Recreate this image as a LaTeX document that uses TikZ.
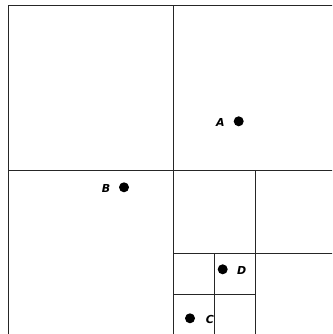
\documentclass[tikz,border=0pt]{standalone}
\usepackage{fontspec}
\newfontfamily\handfont{DejaVu Sans}
\begin{document}
\begin{tikzpicture}[x=1pt,y=-1pt,
  grid/.style={draw=black!85,line width=1pt},
  pt/.style={circle,fill=black,inner sep=0pt,minimum size=10pt},
  lbl/.style={font=\handfont\bfseries\itshape\fontsize{11}{11}\selectfont,inner sep=0pt}]
\useasboundingbox (0,0) rectangle (332,334);
\clip (0,0) rectangle (332,334);
\fill[white] (0,0) rectangle (332,334);
% outer square and quadtree subdivisions
\draw[grid] (8,5.5) rectangle (338,335.5);
\draw[grid] (173,5.5) -- (173,335.5);
\draw[grid] (8,170.5) -- (338,170.5);
\draw[grid] (255.5,170.5) -- (255.5,335.5);
\draw[grid] (173,253) -- (338,253);
\draw[grid] (214.2,253) -- (214.2,335.5);
\draw[grid] (173,294) -- (255.5,294);
% points
\node[pt] (a) at (238.7,121.3) {};
\node[lbl] (la) at (220.5,122.5) {A};
\node[pt] (b) at (124,187.3) {};
\node[lbl] (lb) at (106,188) {B};
\node[pt] (d) at (222.7,269.3) {};
\node[lbl] (ld) at (241.7,270.5) {D};
\node[pt] (c) at (190,318.3) {};
\node[lbl] (lc) at (210,319.3) {C};
\end{tikzpicture}
\end{document}
